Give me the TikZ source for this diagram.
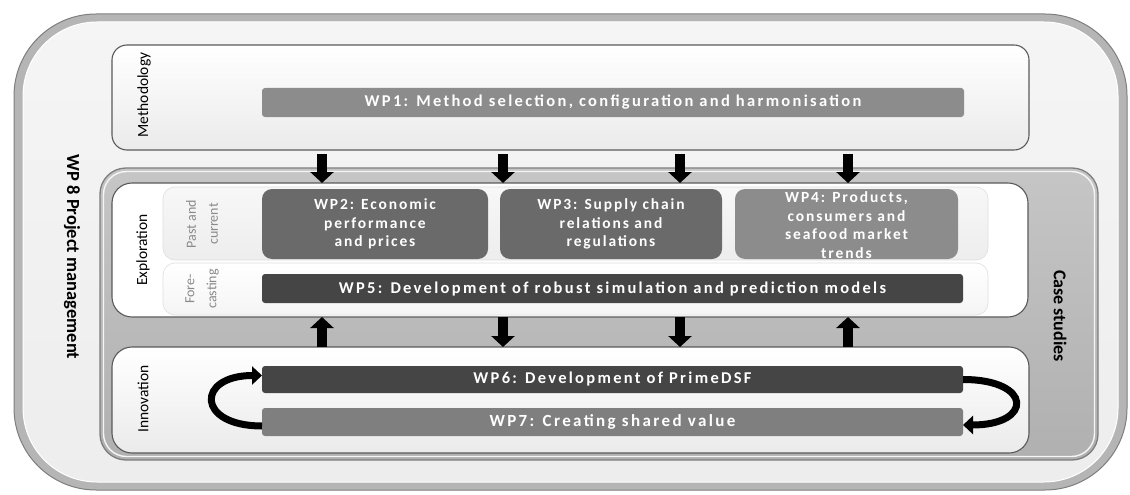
\documentclass[tikz,border=0pt]{standalone}
\usepackage{fontspec}
\setmainfont{Carlito}
\newfontfamily\barfont[LetterSpace=14]{Carlito}
\newfontfamily\boxfont[LetterSpace=12]{Carlito}
\usetikzlibrary{arrows.meta}
\definecolor{wpA}{HTML}{8C8C8C}
\definecolor{wpB}{HTML}{6A6A6A}
\definecolor{wpC}{HTML}{454545}
\definecolor{wpD}{HTML}{7F7F7F}
\definecolor{rim}{HTML}{B5B5B5}
\definecolor{rimdark}{HTML}{7E7E7E}
\definecolor{panelline}{HTML}{5A5A5A}
\definecolor{sidetext}{HTML}{8A8A8A}
\begin{document}
\begin{tikzpicture}[x=1pt,y=-1pt,
  box/.style={inner sep=0pt, outer sep=0pt, anchor=center},
  panel/.style={box, draw=panelline, line width=1.1pt, top color=white, bottom color=gray!16},
  subpanel/.style={box, draw=gray!25, line width=0.6pt, rounded corners=12pt},
  bar/.style={box, rounded corners=3pt, text=white, font=\barfont\bfseries\fontsize{16.5}{19}\selectfont},
  wpbox/.style={box, rounded corners=10pt, minimum width=224pt, minimum height=70pt},
  bartext/.style={inner sep=0pt, text=white, align=center, font=\boxfont\bfseries\fontsize{15.5}{18.5}\selectfont},
  sidelabel/.style={inner sep=0pt, rotate=90, font=\fontsize{15.5}{18}\selectfont},
  sublabel/.style={inner sep=0pt, rotate=90, align=center, text=sidetext, font=\fontsize{14}{22}\selectfont},
  blockarrow/.style={line width=10pt, -{Triangle[width=23pt,length=11pt]}},
  curvearrow/.style={line width=7pt, -{Triangle[width=18pt,length=10pt]}}
]
\useasboundingbox (0,0) rectangle (1130,495);

% outer frame
\node[box, minimum width=1113pt, minimum height=476pt, rounded corners=82pt, fill=rim, draw=rimdark, line width=1pt] (outer) at (570.5,252) {};
\node[box, minimum width=1095pt, minimum height=460pt, rounded corners=74pt, top color=gray!8, bottom color=gray!14, draw=white, line width=1pt] (outerin) at (570.5,252) {};
\node[sidelabel, rotate=180, font=\bfseries\fontsize{18.5}{22}\selectfont] (lwp8) at (72,257) {WP 8 Project management};

% methodology
\node[panel, minimum width=917pt, minimum height=105pt, rounded corners=15pt] (meth) at (570.5,97.5) {};
\node[sidelabel] (lmeth) at (144,95) {Methodology};
\node[bar, fill=wpA, minimum width=702pt, minimum height=29pt] (wp1) at (613,102.5) {WP1: Method selection, configuration and harmonisation};

% case studies container
\node[box, minimum width=998pt, minimum height=292pt, rounded corners=26pt, top color=gray!45, bottom color=gray!62, draw=rimdark, line width=1.3pt] (cs) at (599,314) {};
\node[box, minimum width=991pt, minimum height=285pt, rounded corners=23pt, draw=white!92!gray, line width=1.4pt] (csin) at (599,314) {};
\node[sidelabel, rotate=180, font=\bfseries\fontsize{18}{22}\selectfont] (lcs) at (1060,316) {Case studies};

% exploration
\node[panel, minimum width=916pt, minimum height=134pt, rounded corners=20pt, top color=white, bottom color=white] (expl) at (570,250) {};
\node[sidelabel] (lexpl) at (143,250) {Exploration};
\node[subpanel, minimum width=825pt, minimum height=73pt, top color=gray!6, bottom color=gray!14] (past) at (575.5,223.5) {};
\node[subpanel, minimum width=825pt, minimum height=52pt, top color=white, bottom color=gray!8] (fore) at (575.5,289) {};
\node[sublabel] (lpast) at (202,224) {Past and\\current};
\node[sublabel] (lfore) at (202,289) {Fore-\\casting};

\node[wpbox, fill=wpB, minimum width=226pt] (wp2) at (375,224) {};
\node[wpbox, fill=wpB, minimum width=222pt] (wp3) at (611,224) {};
\node[wpbox, fill=wpA, minimum width=223pt] (wp4) at (846.5,224) {};
\node[bartext] (t2) at (wp2.center) {WP2: Economic\\performance\\and prices};
\node[bartext] (t3) at (wp3.center) {WP3: Supply chain\\relations and\\regulations};
\node[bartext] (t4) at ([yshift=-1pt]wp4.center) {WP4: Products,\\consumers and\\seafood market\\trends};

\node[bar, fill=wpC, minimum width=701pt, minimum height=29pt] (wp5) at (612.5,288.5) {WP5: Development of robust simulation and prediction models};

% innovation
\node[panel, minimum width=917pt, minimum height=106pt, rounded corners=20pt] (inno) at (570.5,400) {};
\node[sidelabel] (linno) at (143,399) {Innovation};
\node[bar, fill=wpC, minimum width=701pt, minimum height=27pt] (wp6) at (612.5,379.5) {WP6: Development of PrimeDSF};
\node[bar, fill=wpD, minimum width=701pt, minimum height=28pt, font=\barfont\bfseries\fontsize{17}{20}\selectfont] (wp7) at (612.5,422) {WP7: Creating shared value};

% arrow columns
\coordinate (c1) at (322,0);
\coordinate (c2) at (503,0);
\coordinate (c3) at (680,0);
\coordinate (c4) at (848,0);
\foreach \c in {c1,c2,c3,c4}
  \draw[blockarrow, shorten <=4pt] (meth.south -| \c) -- (expl.north -| \c);
\draw[blockarrow] (inno.north -| c1) -- (expl.south -| c1);
\draw[blockarrow] (expl.south -| c2) -- (inno.north -| c2);
\draw[blockarrow] (expl.south -| c3) -- (inno.north -| c3);
\draw[blockarrow] (inno.north -| c4) -- (expl.south -| c4);

% cycle arrows
\draw[curvearrow] ([yshift=-4pt]wp7.west) .. controls +(-66,0) and +(-66,0) .. ([yshift=4pt]wp6.west);
\draw[curvearrow] (wp6.east) .. controls +(70,0) and +(70,0) .. ([yshift=-3pt]wp7.east);
\end{tikzpicture}
\end{document}
